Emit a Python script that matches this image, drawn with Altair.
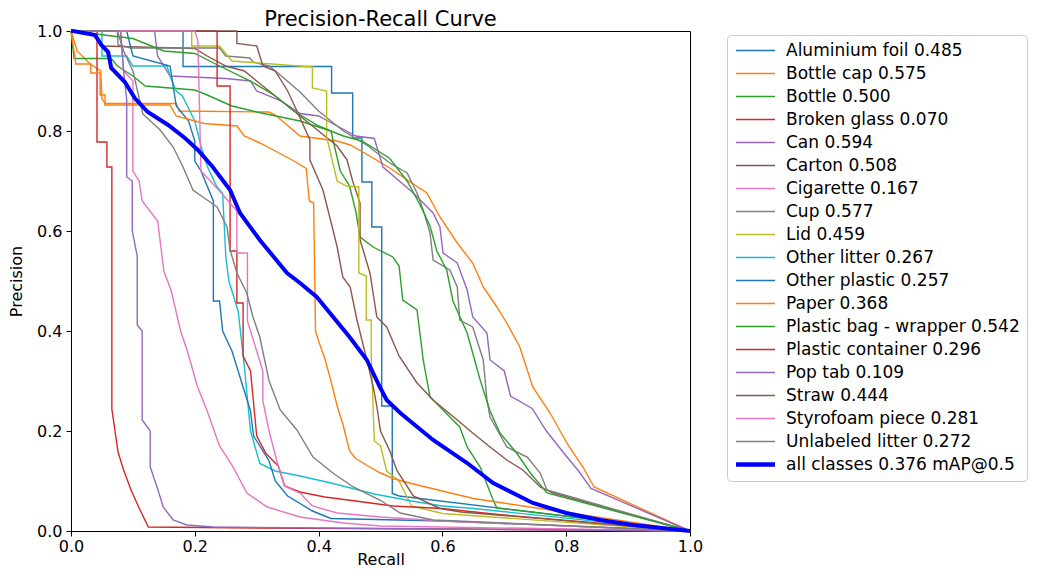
import altair as alt
import pandas as pd

# ---------------- data (recall, precision) ----------------
CLASSES = [
    "Aluminium foil 0.485", "Bottle cap 0.575", "Bottle 0.500", "Broken glass 0.070",
    "Can 0.594", "Carton 0.508", "Cigarette 0.167", "Cup 0.577", "Lid 0.459",
    "Other litter 0.267", "Other plastic 0.257", "Paper 0.368",
    "Plastic bag - wrapper 0.542", "Plastic container 0.296", "Pop tab 0.109",
    "Straw 0.444", "Styrofoam piece 0.281", "Unlabeled litter 0.272",
    "all classes 0.376 mAP@0.5",
]
COLORS = [
    "#1f77b4", "#ff7f0e", "#2ca02c", "#d62728", "#9467bd", "#8c564b", "#e377c2",
    "#7f7f7f", "#bcbd22", "#17becf", "#1f77b4", "#ff7f0e", "#2ca02c", "#d62728",
    "#9467bd", "#8c564b", "#e377c2", "#7f7f7f", "#0000ff",
]

ALUMINIUM_FOIL = [(0, 1), (0.181, 1), (0.181, 0.929), (0.421, 0.929), (0.421, 0.876), (0.455, 0.876),
                  (0.455, 0.786), (0.47, 0.786), (0.47, 0.698), (0.486, 0.698), (0.486, 0.608),
                  (0.502, 0.608), (0.502, 0.25), (0.519, 0.25), (0.519, 0.075), (0.53, 0.07), (1, 0)]
BOTTLE_CAP = [(0, 1), (0.01, 0.96), (0.03, 0.935), (0.048, 0.92), (0.05, 0.865), (0.055, 0.855),
              (0.17, 0.855), (0.175, 0.84), (0.32, 0.838), (0.33, 0.832), (0.37, 0.79), (0.43, 0.78),
              (0.451, 0.772), (0.488, 0.746), (0.515, 0.726), (0.548, 0.698), (0.575, 0.676),
              (0.596, 0.628), (0.624, 0.576), (0.649, 0.536), (0.666, 0.488), (0.688, 0.448),
              (0.704, 0.416), (0.725, 0.368), (0.746, 0.288), (0.774, 0.236), (0.801, 0.176),
              (0.827, 0.128), (0.845, 0.088), (1, 0)]
BOTTLE = [(0, 1), (0.005, 0.945), (0.065, 0.945), (0.075, 0.93), (0.1, 0.91), (0.12, 0.89),
          (0.16, 0.886), (0.2, 0.882), (0.22, 0.872), (0.26, 0.85), (0.3, 0.838), (0.37, 0.82),
          (0.42, 0.8), (0.435, 0.72), (0.45, 0.69), (0.46, 0.64), (0.467, 0.588), (0.488, 0.568),
          (0.52, 0.548), (0.53, 0.53), (0.536, 0.462), (0.559, 0.442), (0.569, 0.342),
          (0.58, 0.268), (0.601, 0.242), (0.628, 0.208), (0.64, 0.168), (0.661, 0.128),
          (0.682, 0.062), (0.688, 0.046), (1, 0)]
BROKEN_GLASS = [(0, 1), (0.042, 1), (0.042, 0.778), (0.058, 0.778), (0.058, 0.728), (0.066, 0.728),
                (0.066, 0.244), (0.076, 0.158), (0.085, 0.122), (0.097, 0.082), (0.11, 0.046),
                (0.125, 0.008), (0.3, 0.006), (0.6, 0.004), (1, 0)]
CAN = [(0, 1), (0.135, 1), (0.14, 0.95), (0.15, 0.93), (0.16, 0.91), (0.25, 0.905), (0.29, 0.9),
       (0.3, 0.88), (0.34, 0.86), (0.37, 0.835), (0.4, 0.83), (0.43, 0.81), (0.46, 0.79),
       (0.49, 0.785), (0.504, 0.728), (0.553, 0.676), (0.585, 0.636), (0.596, 0.608),
       (0.601, 0.556), (0.624, 0.536), (0.64, 0.482), (0.649, 0.428), (0.672, 0.396),
       (0.677, 0.342), (0.7, 0.32), (0.71, 0.27), (0.745, 0.245), (0.768, 0.2), (0.8, 0.15),
       (0.82, 0.12), (0.84, 0.085), (1, 0)]
CARTON = [(0, 1), (0.03, 1), (0.05, 0.97), (0.2, 0.965), (0.22, 0.95), (0.25, 0.93), (0.28, 0.92),
          (0.3, 0.9), (0.33, 0.87), (0.36, 0.84), (0.4, 0.8), (0.43, 0.77), (0.446, 0.742),
          (0.455, 0.7), (0.467, 0.656), (0.467, 0.582), (0.483, 0.516), (0.494, 0.428),
          (0.51, 0.408), (0.53, 0.35), (0.559, 0.296), (0.585, 0.262), (0.624, 0.222),
          (0.649, 0.196), (0.677, 0.168), (0.704, 0.142), (0.73, 0.122), (0.758, 0.088),
          (0.779, 0.076), (1, 0)]
CIGARETTE = [(0, 1), (0.08, 1), (0.085, 0.92), (0.1, 0.9), (0.1, 0.72), (0.11, 0.7), (0.115, 0.66),
             (0.14, 0.62), (0.145, 0.57), (0.15, 0.52), (0.162, 0.48), (0.177, 0.4), (0.188, 0.36),
             (0.204, 0.29), (0.22, 0.24), (0.24, 0.17), (0.262, 0.128), (0.284, 0.076),
             (0.317, 0.048), (0.37, 0.028), (0.44, 0.016), (0.5, 0.01), (1, 0)]
CUP = [(0, 1), (0.075, 1), (0.076, 0.972), (0.097, 0.966), (0.24, 0.966), (0.25, 0.95),
       (0.289, 0.946), (0.294, 0.938), (0.32, 0.93), (0.338, 0.912), (0.37, 0.878), (0.4, 0.84),
       (0.44, 0.8), (0.48, 0.77), (0.515, 0.736), (0.543, 0.716), (0.559, 0.676), (0.569, 0.642),
       (0.58, 0.596), (0.585, 0.542), (0.612, 0.522), (0.624, 0.488), (0.628, 0.422),
       (0.649, 0.408), (0.666, 0.342), (0.672, 0.262), (0.677, 0.228), (0.704, 0.168),
       (0.737, 0.148), (0.758, 0.116), (0.769, 0.082), (1, 0)]
LID = [(0, 1), (0.195, 1), (0.195, 0.97), (0.24, 0.97), (0.25, 0.955), (0.26, 0.94), (0.39, 0.928),
       (0.39, 0.886), (0.413, 0.88), (0.413, 0.788), (0.43, 0.7), (0.445, 0.69), (0.465, 0.688),
       (0.465, 0.516), (0.477, 0.51), (0.477, 0.422), (0.485, 0.422), (0.485, 0.35),
       (0.49, 0.18), (0.5, 0.17), (0.51, 0.12), (0.53, 0.1), (0.55, 0.05), (0.6, 0.035), (1, 0)]
OTHER_LITTER = [(0, 1), (0.05, 1), (0.05, 0.95), (0.09, 0.95), (0.1, 0.93), (0.155, 0.93),
                (0.16, 0.91), (0.17, 0.88), (0.18, 0.87), (0.188, 0.85), (0.2, 0.82), (0.21, 0.77),
                (0.22, 0.73), (0.235, 0.69), (0.245, 0.675), (0.25, 0.55), (0.255, 0.5),
                (0.27, 0.44), (0.28, 0.33), (0.29, 0.2), (0.305, 0.135), (0.33, 0.12),
                (0.37, 0.11), (0.42, 0.096), (0.49, 0.074), (0.55, 0.06), (0.6, 0.05),
                (0.65, 0.045), (1, 0)]
OTHER_PLASTIC = [(0, 1), (0.09, 1), (0.1, 0.95), (0.16, 0.93), (0.17, 0.85), (0.19, 0.82),
                 (0.2, 0.78), (0.2, 0.74), (0.21, 0.72), (0.22, 0.69), (0.23, 0.66), (0.23, 0.46),
                 (0.24, 0.46), (0.245, 0.4), (0.26, 0.36), (0.27, 0.32), (0.28, 0.28),
                 (0.29, 0.24), (0.295, 0.19), (0.3, 0.18), (0.32, 0.14), (0.33, 0.1),
                 (0.35, 0.07), (0.39, 0.04), (0.42, 0.025), (0.6, 0.02), (1, 0)]
PAPER = [(0, 1), (0.008, 0.934), (0.032, 0.934), (0.032, 0.916), (0.047, 0.916), (0.047, 0.872),
         (0.055, 0.872), (0.055, 0.852), (0.16, 0.852), (0.17, 0.83), (0.2, 0.82), (0.215, 0.815),
         (0.268, 0.81), (0.28, 0.79), (0.305, 0.776), (0.33, 0.76), (0.36, 0.74), (0.38, 0.725),
         (0.385, 0.66), (0.392, 0.656), (0.395, 0.4), (0.4, 0.38), (0.41, 0.345), (0.42, 0.3),
         (0.43, 0.25), (0.44, 0.21), (0.45, 0.16), (0.46, 0.145), (0.48, 0.13), (0.5, 0.116),
         (0.52, 0.105), (0.55, 0.095), (0.6, 0.08), (0.65, 0.065), (1, 0)]
PLASTIC_BAG = [(0, 1), (0.1, 0.985), (0.15, 0.96), (0.2, 0.955), (0.24, 0.93), (0.29, 0.9),
               (0.33, 0.87), (0.36, 0.84), (0.4, 0.81), (0.44, 0.79), (0.47, 0.78), (0.49, 0.765),
               (0.515, 0.745), (0.543, 0.7), (0.564, 0.652), (0.58, 0.61), (0.591, 0.56),
               (0.607, 0.522), (0.617, 0.46), (0.64, 0.396), (0.661, 0.302), (0.677, 0.24),
               (0.693, 0.196), (0.72, 0.156), (0.742, 0.116), (0.769, 0.076), (1, 0)]
PLASTIC_CONTAINER = [(0, 1), (0.236, 1), (0.236, 0.89), (0.257, 0.89), (0.257, 0.56), (0.268, 0.56),
                     (0.268, 0.456), (0.278, 0.456), (0.278, 0.35), (0.29, 0.32), (0.3, 0.19),
                     (0.315, 0.155), (0.335, 0.13), (0.345, 0.09), (0.37, 0.078), (0.41, 0.068),
                     (0.46, 0.06), (0.52, 0.05), (0.6, 0.045), (0.69, 0.033), (1, 0)]
POP_TAB = [(0, 1), (0.08, 1), (0.085, 0.92), (0.09, 0.862), (0.09, 0.708), (0.099, 0.7),
           (0.099, 0.6), (0.107, 0.55), (0.107, 0.412), (0.115, 0.4), (0.115, 0.222),
           (0.128, 0.2), (0.128, 0.128), (0.139, 0.088), (0.149, 0.048), (0.165, 0.022),
           (0.187, 0.012), (0.23, 0.008), (0.5, 0.005), (1, 0)]
STRAW = [(0, 1), (0.268, 1), (0.268, 0.975), (0.3, 0.97), (0.31, 0.93), (0.33, 0.92), (0.35, 0.88),
         (0.365, 0.84), (0.386, 0.782), (0.386, 0.742), (0.407, 0.682), (0.418, 0.628),
         (0.43, 0.568), (0.439, 0.508), (0.451, 0.488), (0.462, 0.422), (0.478, 0.342),
         (0.488, 0.29), (0.494, 0.25), (0.5, 0.2), (0.515, 0.16), (0.527, 0.12), (0.553, 0.07),
         (0.596, 0.045), (0.63, 0.038), (1, 0)]
STYROFOAM = [(0, 1), (0.2, 1), (0.205, 0.98), (0.21, 0.72), (0.24, 0.68), (0.268, 0.64),
             (0.268, 0.556), (0.285, 0.556), (0.285, 0.42), (0.31, 0.32), (0.31, 0.26),
             (0.32, 0.2), (0.333, 0.138), (0.345, 0.09), (0.37, 0.076), (0.39, 0.05),
             (0.43, 0.036), (0.5, 0.028), (0.6, 0.02), (1, 0)]
UNLABELED = [(0, 1), (0.075, 1), (0.08, 0.98), (0.085, 0.96), (0.1, 0.92), (0.116, 0.834),
             (0.144, 0.802), (0.165, 0.768), (0.181, 0.728), (0.197, 0.682), (0.213, 0.668),
             (0.236, 0.648), (0.252, 0.608), (0.257, 0.562), (0.268, 0.516), (0.284, 0.476),
             (0.294, 0.428), (0.305, 0.388), (0.32, 0.3), (0.338, 0.242), (0.365, 0.202),
             (0.391, 0.148), (0.423, 0.116), (0.456, 0.088), (0.499, 0.062), (0.532, 0.036),
             (0.585, 0.022), (1, 0)]
ALL_CLASSES = [(0, 1), (0.003, 1), (0.039, 0.992), (0.049, 0.972), (0.06, 0.958), (0.065, 0.926),
               (0.087, 0.898), (0.103, 0.866), (0.124, 0.838), (0.157, 0.812), (0.184, 0.786),
               (0.205, 0.762), (0.229, 0.728), (0.257, 0.682), (0.273, 0.636), (0.305, 0.582),
               (0.349, 0.516), (0.37, 0.496), (0.397, 0.468), (0.45, 0.388), (0.478, 0.342),
               (0.499, 0.288), (0.51, 0.262), (0.532, 0.236), (0.585, 0.182), (0.64, 0.136),
               (0.682, 0.096), (0.746, 0.056), (0.8, 0.036), (0.855, 0.022), (0.908, 0.012), (1, 0)]

CURVES = [ALUMINIUM_FOIL, BOTTLE_CAP, BOTTLE, BROKEN_GLASS, CAN, CARTON, CIGARETTE, CUP, LID,
          OTHER_LITTER, OTHER_PLASTIC, PAPER, PLASTIC_BAG, PLASTIC_CONTAINER, POP_TAB, STRAW,
          STYROFOAM, UNLABELED, ALL_CLASSES]
TICKS = [0.0, 0.2, 0.4, 0.6, 0.8, 1.0]

rows = []
for name, pts in zip(CLASSES, CURVES):
    for i, (r, p) in enumerate(pts):
        rows.append({"cls": name, "idx": i, "r": r, "p": p})
df = pd.DataFrame(rows)

ALL = CLASSES[-1]
FONT = "DejaVu Sans"

x = alt.X("r:Q", scale=alt.Scale(domain=[0, 1], nice=False, zero=False),
          axis=alt.Axis(title="Recall", values=TICKS, format=".1f", labelFlush=False,
                        labelPadding=2, titlePadding=-3))
y = alt.Y("p:Q", scale=alt.Scale(domain=[0, 1], nice=False, zero=False),
          axis=alt.Axis(title="Precision", values=TICKS, format=".1f", labelPadding=4,
                        titlePadding=12))
color = alt.Color(
    "cls:N",
    scale=alt.Scale(domain=CLASSES, range=COLORS),
    legend=alt.Legend(
        title=None, orient="none", legendX=656, legendY=4,
        symbolType="M -1 0 H 5", symbolSize=169,
        symbolStrokeWidth=alt.ExprRef(expr=f"datum.value === '{ALL}' ? 4.5 : 1.5"),
        symbolFillColor="transparent",
        labelOffset=35, labelFontSize=17, labelFont=FONT, labelColor="black",
        labelLimit=500, rowPadding=5, padding=7, strokeColor="#cccccc",
        cornerRadius=4, fillColor="white",
    ),
)

base = alt.Chart(df)
lines = base.transform_filter(alt.datum.cls != ALL).mark_line(strokeWidth=1.4).encode(
    x=x, y=y, color=color, order="idx:Q")
allline = base.transform_filter(alt.datum.cls == ALL).mark_line(strokeWidth=4).encode(
    x=x, y=y, color=color, order="idx:Q")

chart = alt.layer(lines, allline).properties(
    width=619, height=500,
    title=alt.TitleParams("Precision-Recall Curve", fontSize=21, font=FONT, fontWeight="normal",
                          color="black", anchor="middle", offset=-7),
    padding={"left": 63, "top": 23, "right": 341, "bottom": 39},
    autosize=alt.AutoSizeParams(type="none"),
).configure_view(stroke="black", strokeWidth=1).configure_axis(
    grid=False, domainColor="black", tickColor="black", labelColor="black", titleColor="black",
    tickSize=5, labelFontSize=16, titleFontSize=16, labelFont=FONT, titleFont=FONT,
    titleFontWeight="normal",
)

chart.save("out.html", embed_options={"renderer": "svg", "actions": False})
